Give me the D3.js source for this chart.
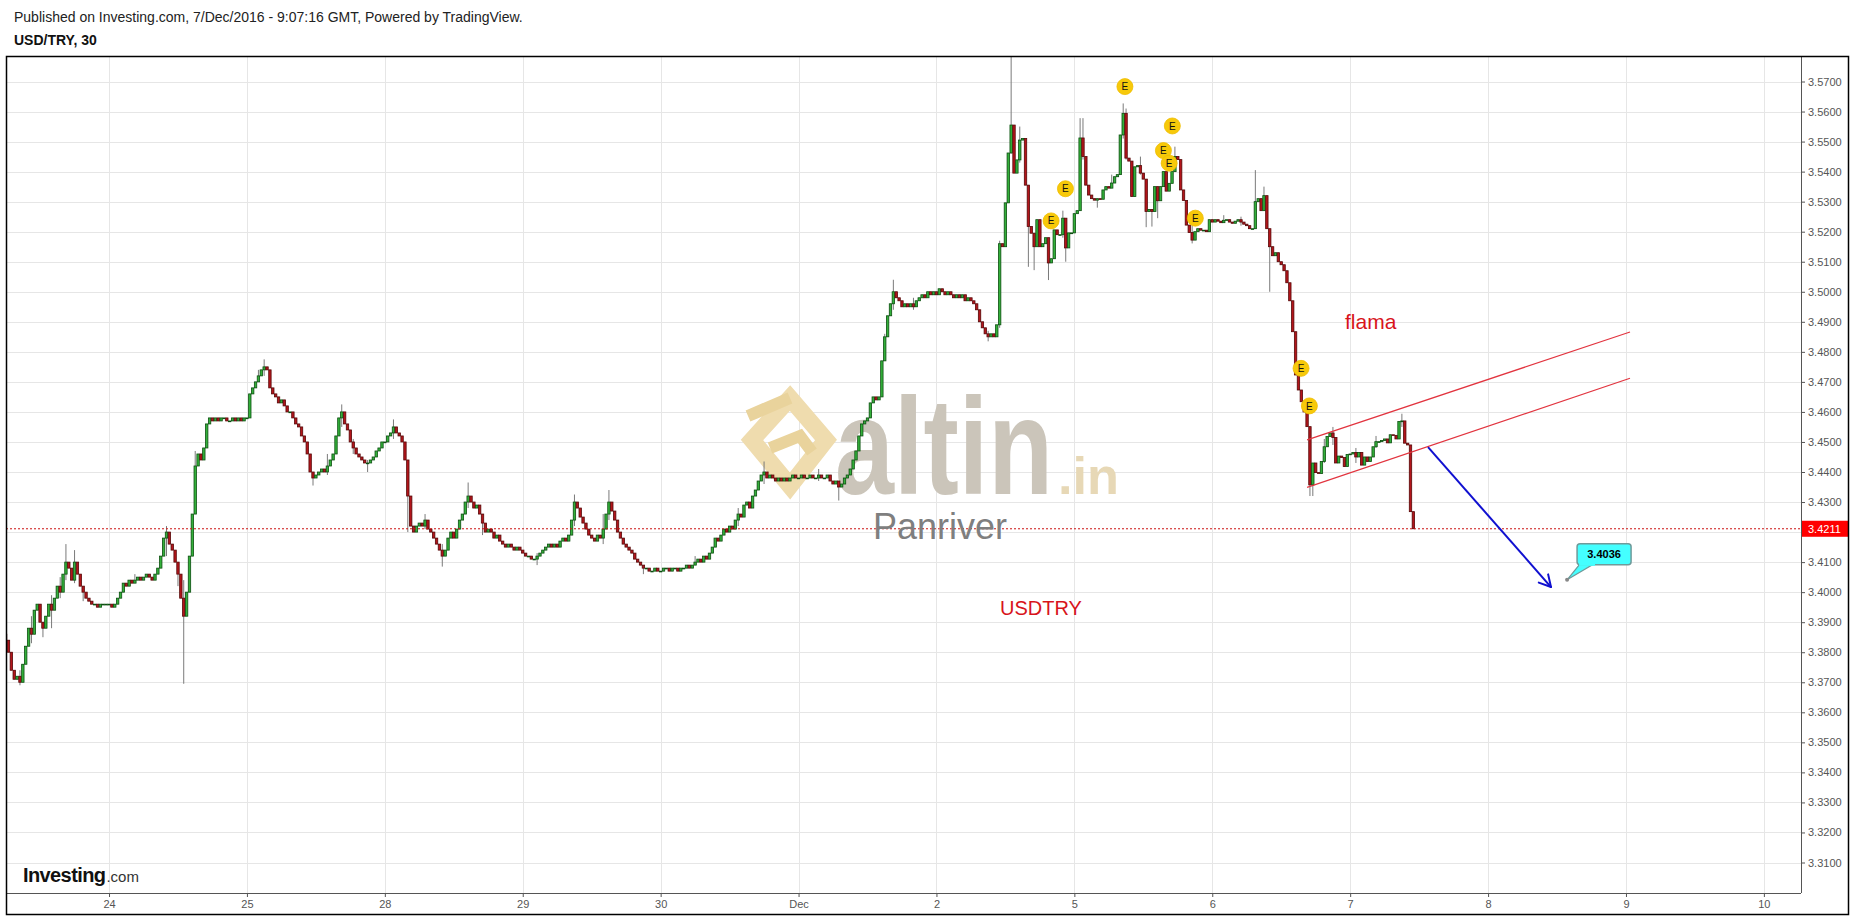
<!DOCTYPE html>
<html><head><meta charset="utf-8">
<script src="https://cdnjs.cloudflare.com/ajax/libs/d3/7.8.5/d3.min.js"></script>
<style>body{margin:0;background:#fff;} svg{display:block;} text{font-family:"Liberation Sans", Arial, sans-serif;}</style>
</head><body><svg id="c" width="1851" height="916"></svg>
<script>
// ---------- DATA (30-minute USD/TRY candles, closes per trading day) ----------
const firstOpen = 3.386;
const d23 = [3.384,3.380,3.374,3.371,3.372,3.370,3.376,3.382,3.388,3.386,3.394,3.396,3.390,3.388,3.392,3.396,3.394,3.398,3.402,3.400,3.406,3.410,3.408,3.404,3.410,3.406,3.402,3.400,3.398,3.397,3.396,3.396,3.395,3.396,3.396,3.396];
const d24 = [3.396,3.395,3.396,3.398,3.400,3.403,3.402,3.404,3.403,3.404,3.405,3.404,3.405,3.406,3.405,3.404,3.406,3.408,3.412,3.418,3.420,3.416,3.414,3.410,3.406,3.398,3.392,3.400,3.412,3.426,3.442,3.446,3.444,3.448,3.456,3.458,3.457,3.458,3.457,3.458,3.458,3.457,3.457,3.458,3.457,3.458,3.457,3.458];
const d25 = [3.458,3.466,3.468,3.470,3.472,3.474,3.475,3.474,3.468,3.466,3.465,3.463,3.464,3.462,3.460,3.460,3.458,3.456,3.455,3.452,3.450,3.446,3.440,3.438,3.439,3.440,3.441,3.440,3.442,3.444,3.446,3.452,3.458,3.460,3.456,3.454,3.450,3.448,3.446,3.445,3.444,3.443,3.443,3.444,3.445,3.447,3.448,3.450];
const d28 = [3.450,3.452,3.453,3.455,3.453,3.452,3.450,3.444,3.432,3.422,3.420,3.422,3.423,3.422,3.424,3.421,3.420,3.418,3.416,3.414,3.412,3.414,3.418,3.420,3.418,3.421,3.424,3.426,3.430,3.432,3.430,3.428,3.429,3.426,3.423,3.420,3.421,3.420,3.418,3.419,3.417,3.416,3.415,3.416,3.415,3.414,3.415,3.414];
const d29 = [3.413,3.412,3.412,3.411,3.411,3.412,3.413,3.414,3.415,3.416,3.415,3.416,3.415,3.417,3.418,3.417,3.419,3.424,3.430,3.428,3.425,3.423,3.421,3.419,3.418,3.417,3.419,3.418,3.421,3.426,3.430,3.427,3.424,3.420,3.418,3.416,3.415,3.414,3.413,3.411,3.410,3.409,3.408,3.408,3.407,3.407,3.408,3.407];
const d30 = [3.407,3.408,3.408,3.407,3.408,3.408,3.407,3.408,3.408,3.409,3.408,3.409,3.410,3.411,3.410,3.412,3.411,3.413,3.415,3.418,3.417,3.419,3.421,3.420,3.422,3.421,3.424,3.426,3.425,3.429,3.430,3.428,3.432,3.434,3.437,3.439,3.440,3.438,3.439,3.438,3.437,3.438,3.437,3.438,3.437,3.438,3.439,3.438];
const dDec1 = [3.438,3.439,3.438,3.438,3.439,3.438,3.438,3.439,3.438,3.438,3.439,3.437,3.436,3.437,3.435,3.436,3.438,3.439,3.441,3.444,3.447,3.452,3.456,3.457,3.458,3.463,3.465,3.464,3.465,3.477,3.485,3.492,3.496,3.500,3.498,3.497,3.495,3.496,3.495,3.496,3.495,3.497,3.498,3.499,3.498,3.500,3.499,3.500];
const dDec2 = [3.499,3.501,3.500,3.499,3.500,3.499,3.498,3.499,3.498,3.499,3.497,3.498,3.497,3.496,3.494,3.490,3.488,3.486,3.485,3.486,3.485,3.489,3.516,3.515,3.5296,3.5462,3.5555,3.5395,3.5439,3.5505,3.551,3.5355,3.5217,3.5195,3.515,3.524,3.515,3.516,3.518,3.5096,3.511,3.5206,3.519,3.519,3.5245,3.5146,3.5196,3.5196];
const dDec5 = [3.526,3.527,3.5512,3.545,3.5355,3.5322,3.531,3.5305,3.531,3.5308,3.5339,3.535,3.5345,3.5362,3.5383,3.539,3.5522,3.5594,3.5445,3.5435,3.5317,3.5416,3.542,3.5395,3.5375,3.5267,3.5274,3.5267,3.535,3.5303,3.535,3.540,3.5335,3.5361,3.540,3.545,3.544,3.5339,3.5304,3.5222,3.5197,3.5172,3.520,3.521,3.5205,3.5205,3.520,3.524];
const dDec6 = [3.5232,3.524,3.5235,3.523,3.5238,3.524,3.5232,3.5228,3.5235,3.524,3.5232,3.5225,3.522,3.521,3.521,3.530,3.531,3.527,3.532,3.521,3.515,3.512,3.513,3.510,3.509,3.507,3.503,3.497,3.4867,3.4723,3.4673,3.4634,3.460,3.4551,3.4357,3.443,3.4398,3.4395,3.4435,3.4484,3.4518,3.453,3.4515,3.443,3.4453,3.4448,3.4418,3.4458];
const dDec7 = [3.446,3.4465,3.445,3.4465,3.4423,3.445,3.4435,3.445,3.4484,3.4501,3.4501,3.4505,3.451,3.4497,3.4524,3.4522,3.451,3.4568,3.457,3.4496,3.449,3.4268,3.4211];
// notable wicks: [bar index, high, low]
const wicks = [[5,3.374,3.369],[9,3.392,3.383],[13,3.390,3.385],[16,3.399,3.388],[19,3.405,3.398],[21,3.416,3.404],[24,3.414,3.403],[27,3.402,3.397],
  [45,3.406,3.403],[56,3.422,3.412],[60,3.407,3.402],[62,3.404,3.3695],[66,3.447,3.438],[88,3.474,3.470],[90,3.4775,3.472],[107,3.440,3.4355],[112,3.446,3.439],
  [117,3.4625,3.455],[121,3.451,3.446],[126,3.444,3.440],[135,3.4575,3.451],[140,3.441,3.420],[146,3.426,3.421],[152,3.416,3.4085],[161,3.4365,3.428],[166,3.426,3.419],
  [185,3.413,3.409],[198,3.4325,3.422],[208,3.426,3.416],[210,3.434,3.424],[222,3.409,3.406],[240,3.412,3.409],[255,3.428,3.422],[264,3.4435,3.436],
  [283,3.441,3.437],[290,3.437,3.4305],[306,3.486,3.478],[309,3.504,3.494],[316,3.498,3.494],[342,3.487,3.4835],[346,3.517,3.488],[350,3.5785,3.546],
  [353,3.555,3.543],[356,3.5217,3.5083],[358,3.5195,3.5072],[363,3.516,3.5039],[368,3.527,3.518],[369,3.5245,3.510],[374,3.5578,3.527],[375,3.5578,3.544],
  [380,3.531,3.528],[385,3.539,3.535],[389,3.5627,3.551],[390,3.561,3.544],[395,3.545,3.539],[397,3.5274,3.5215],[399,3.5274,3.5217],[401,3.535,3.5245],
  [407,3.5483,3.540],[413,3.5222,3.5161],[424,3.5255,3.523],[430,3.525,3.522],[435,3.5405,3.521],[438,3.535,3.527],[440,3.521,3.500],[454,3.4551,3.432],
  [455,3.443,3.432],[459,3.451,3.443],[462,3.455,3.449],[470,3.448,3.443],[477,3.452,3.448],[486,3.4594,3.455]];
// axis data
const dayTickBars = [36,84,132,180,228,276,324,372,420,468,516,564,612];
const dayLabels = ['24','25','28','29','30','Dec','2','5','6','7','8','9','10'];
const priceTicks = [3.31,3.32,3.33,3.34,3.35,3.36,3.37,3.38,3.39,3.40,3.41,3.42,3.43,3.44,3.45,3.46,3.47,3.48,3.49,3.50,3.51,3.52,3.53,3.54,3.55,3.56,3.57];
const lastPrice = 3.4211;
// events [bar, price]
const events = [[363.9,3.5236],[368.9,3.5343],[389.6,3.5683],[403,3.547],[406.1,3.5552],[405,3.5428],[414.1,3.5245],[450.9,3.4745],[453.8,3.462]];
// drawings [bar, price]
const channelUpper = [[453,3.4507],[565.4,3.4866]];
const channelLower = [[453,3.4349],[565.4,3.4712]];
const arrowLine = [[495.1,3.4483],[537.9,3.4017]];
const callout = {bar:543.5, price:3.4041, text:'3.4036'};
const notes = [{t:'flama',bar:466.2,price:3.4876,size:21},{t:'USDTRY',bar:346.1,price:3.3924,size:20}];
const signature = {t:'Panriver',bar:301.9,price:3.4178};

// ---------- LAYOUT ----------
const L = 6, T = 56, R = 1801, B = 893, FR = 1849, FB = 915;
const svg = d3.select('#c');
const x = d3.scaleLinear().domain([0, 625]).range([5.6, 5.6 + 625*2.873]);
const y = d3.scaleLinear().domain([3.31, 3.57]).range([862.5, 81.5]);

svg.append('rect').attr('width',1851).attr('height',916).attr('fill','#fff');
svg.append('text').attr('x',14).attr('y',22).attr('font-size',14).attr('fill','#222')
  .text('Published on Investing.com, 7/Dec/2016 - 9:07:16 GMT, Powered by TradingView.');
svg.append('text').attr('x',14).attr('y',45).attr('font-size',14).attr('font-weight','bold').attr('fill','#111')
  .text('USD/TRY, 30');

const defs = svg.append('defs');
defs.append('clipPath').attr('id','plot').append('rect').attr('x',L).attr('y',T).attr('width',R-L).attr('height',B-T);

const g = svg.append('g').attr('clip-path','url(#plot)');
// grid
g.selectAll('.hg').data(priceTicks).join('line').attr('x1',L).attr('x2',R)
  .attr('y1',d=>Math.round(y(d))+0.5).attr('y2',d=>Math.round(y(d))+0.5).attr('stroke','#e6e6e6');
g.selectAll('.vg').data(dayTickBars).join('line').attr('y1',T).attr('y2',B)
  .attr('x1',d=>Math.round(x(d))+0.5).attr('x2',d=>Math.round(x(d))+0.5).attr('stroke','#e6e6e6');

// watermark (logo)
const wm = g.append('g');
wm.append('path').attr('d','M790,398 L826,440 L790,486 L752,440 Z').attr('fill','none').attr('stroke','#efdcae').attr('stroke-width',17).attr('stroke-linejoin','miter');
wm.append('path').attr('d','M748,416 L790,398 M770,448 L800,436 L812,452').attr('fill','none').attr('stroke','#e9d39c').attr('stroke-width',12);
wm.append('text').attr('transform','translate(835,494) scale(1,1.3)').attr('font-size',106).attr('font-weight','bold')
  .attr('fill','#cbc5ba').text('altin');
wm.append('text').attr('x',1058).attr('y',494).attr('font-size',52).attr('font-weight','bold')
  .attr('textLength',61).attr('lengthAdjust','spacingAndGlyphs').attr('fill','#e7d8b6').text('.in');

// build candles
const candles = [];
let prev = firstOpen, idx = 0;
[d23,d24,d25,d28,d29,d30,dDec1,dDec2,dDec5,dDec6,dDec7].forEach(day => {
  day.forEach(c => { candles.push({i: idx, o: prev, c: c, h: Math.max(prev,c), l: Math.min(prev,c)}); prev = c; idx++; });
});
wicks.forEach(([i,h,l]) => { const k = candles[i]; if (k) { k.h = Math.max(k.h,h); k.l = Math.min(k.l,l); } });

g.selectAll('.wk').data(candles.filter(d=>y(d.l)-y(d.h)>1)).join('line')
  .attr('x1',d=>x(d.i)).attr('x2',d=>x(d.i)).attr('y1',d=>y(d.h)).attr('y2',d=>y(d.l))
  .attr('stroke','#7a7a7a').attr('stroke-width',1);
g.selectAll('.bd').data(candles).join('rect')
  .attr('x',d=>x(d.i)-1.2).attr('width',2.4)
  .attr('y',d=>Math.min(y(d.o),y(d.c)))
  .attr('height',d=>Math.max(0.8,Math.abs(y(d.o)-y(d.c))))
  .attr('fill',d=>d.c>=d.o?'#33b03a':'#b3151b')
  .attr('stroke',d=>d.c>=d.o?'#0c4f10':'#560808').attr('stroke-width',0.8);

// last price line
g.append('line').attr('x1',L).attr('x2',R).attr('y1',y(lastPrice)).attr('y2',y(lastPrice))
  .attr('stroke','#cc1111').attr('stroke-dasharray','2,2').attr('stroke-width',1);

// drawings
[channelUpper, channelLower].forEach(seg => {
  g.append('line').attr('x1',x(seg[0][0])).attr('y1',y(seg[0][1])).attr('x2',x(seg[1][0])).attr('y2',y(seg[1][1]))
    .attr('stroke','#e2343f').attr('stroke-width',1.2);
});
const ax1 = x(arrowLine[0][0]), ay1 = y(arrowLine[0][1]), ax2 = x(arrowLine[1][0]), ay2 = y(arrowLine[1][1]);
g.append('line').attr('x1',ax1).attr('y1',ay1).attr('x2',ax2).attr('y2',ay2).attr('stroke','#1010d0').attr('stroke-width',2);
const ang = Math.atan2(ay2-ay1, ax2-ax1), hl = 13;
[-0.5, 0.5].forEach(s => {
  g.append('line').attr('x1',ax2).attr('y1',ay2)
    .attr('x2',ax2 - hl*Math.cos(ang+s)).attr('y2',ay2 - hl*Math.sin(ang+s))
    .attr('stroke','#1010d0').attr('stroke-width',2).attr('stroke-linecap','round');
});
// callout
const cx0 = x(callout.bar), cy0 = y(callout.price);
g.append('path').attr('d',`M${cx0},${cy0} L${cx0+13},${cy0-16} L${cx0+27},${cy0-16} Z`).attr('fill','#44ffff').attr('stroke','#6f9a9a').attr('stroke-width',1.2);
g.append('rect').attr('x',cx0+10).attr('y',cy0-36).attr('width',54).attr('height',21).attr('rx',3)
  .attr('fill','#44ffff').attr('stroke','#6f9a9a').attr('stroke-width',1.5);
g.append('rect').attr('x',cx0+12).attr('y',cy0-17).attr('width',16).attr('height',3).attr('fill','#44ffff');
g.append('text').attr('x',cx0+37).attr('y',cy0-21.5).attr('text-anchor','middle').attr('font-size',11).attr('font-weight','bold').attr('fill','#000').text(callout.text);
g.append('circle').attr('cx',cx0).attr('cy',cy0).attr('r',2).attr('fill','#888');

// events
const ev = g.selectAll('.ev').data(events).join('g').attr('transform',d=>`translate(${x(d[0])},${y(d[1])})`);
ev.append('circle').attr('r',8).attr('fill','#f7c90a').attr('stroke','#efbd00').attr('stroke-width',0.8);
ev.append('text').attr('y',3.6).attr('text-anchor','middle').attr('font-size',10).attr('fill','#111').text('E');

// notes
notes.forEach(n => g.append('text').attr('x',x(n.bar)).attr('y',y(n.price)).attr('font-size',n.size).attr('fill','#d8141b').text(n.t));
g.append('text').attr('x',x(signature.bar)).attr('y',y(signature.price)).attr('font-size',36).attr('fill','#7f7f7f').text(signature.t);

// Investing logo
const lg = svg.append('text').attr('x',23).attr('y',882);
lg.append('tspan').attr('font-size',20).attr('font-weight','bold').attr('fill','#111').attr('letter-spacing','-0.6').text('Investing');
lg.append('tspan').attr('font-size',15).attr('fill','#333').attr('dx',1).text('.com');

// axes
const yAxis = svg.append('g').attr('transform',`translate(${R},0)`)
  .call(d3.axisRight(y).tickValues(priceTicks).tickFormat(d3.format('.4f')).tickSize(4).tickPadding(3));
yAxis.select('.domain').remove();
yAxis.selectAll('text').attr('font-size',11).attr('fill','#555').attr('font-family','"Liberation Sans", Arial, sans-serif');
yAxis.selectAll('line').attr('stroke','#555');

const xAxis = svg.append('g').attr('transform',`translate(0,${B})`)
  .call(d3.axisBottom(x).tickValues(dayTickBars).tickFormat((d,i)=>dayLabels[i]).tickSize(4).tickPadding(3));
xAxis.select('.domain').remove();
xAxis.selectAll('text').attr('font-size',11).attr('fill','#555').attr('font-family','"Liberation Sans", Arial, sans-serif');
xAxis.selectAll('line').attr('stroke','#555');

svg.append('line').attr('x1',R+0.5).attr('x2',R+0.5).attr('y1',T).attr('y2',B).attr('stroke','#555');
svg.append('line').attr('x1',L).attr('x2',R).attr('y1',B+0.5).attr('y2',B+0.5).attr('stroke','#555');

// last price label
svg.append('rect').attr('x',R+1).attr('y',y(lastPrice)-8).attr('width',FR-R-2).attr('height',16).attr('fill','#ff0000');
svg.append('text').attr('x',R+7).attr('y',y(lastPrice)+4).attr('font-size',11).attr('fill','#fff').text(lastPrice.toFixed(4));

// frame
svg.append('rect').attr('x',L+0.5).attr('y',T+0.5).attr('width',FR-L-1).attr('height',FB-T-1)
  .attr('fill','none').attr('stroke','#000').attr('stroke-width',1.5);
</script></body></html>
